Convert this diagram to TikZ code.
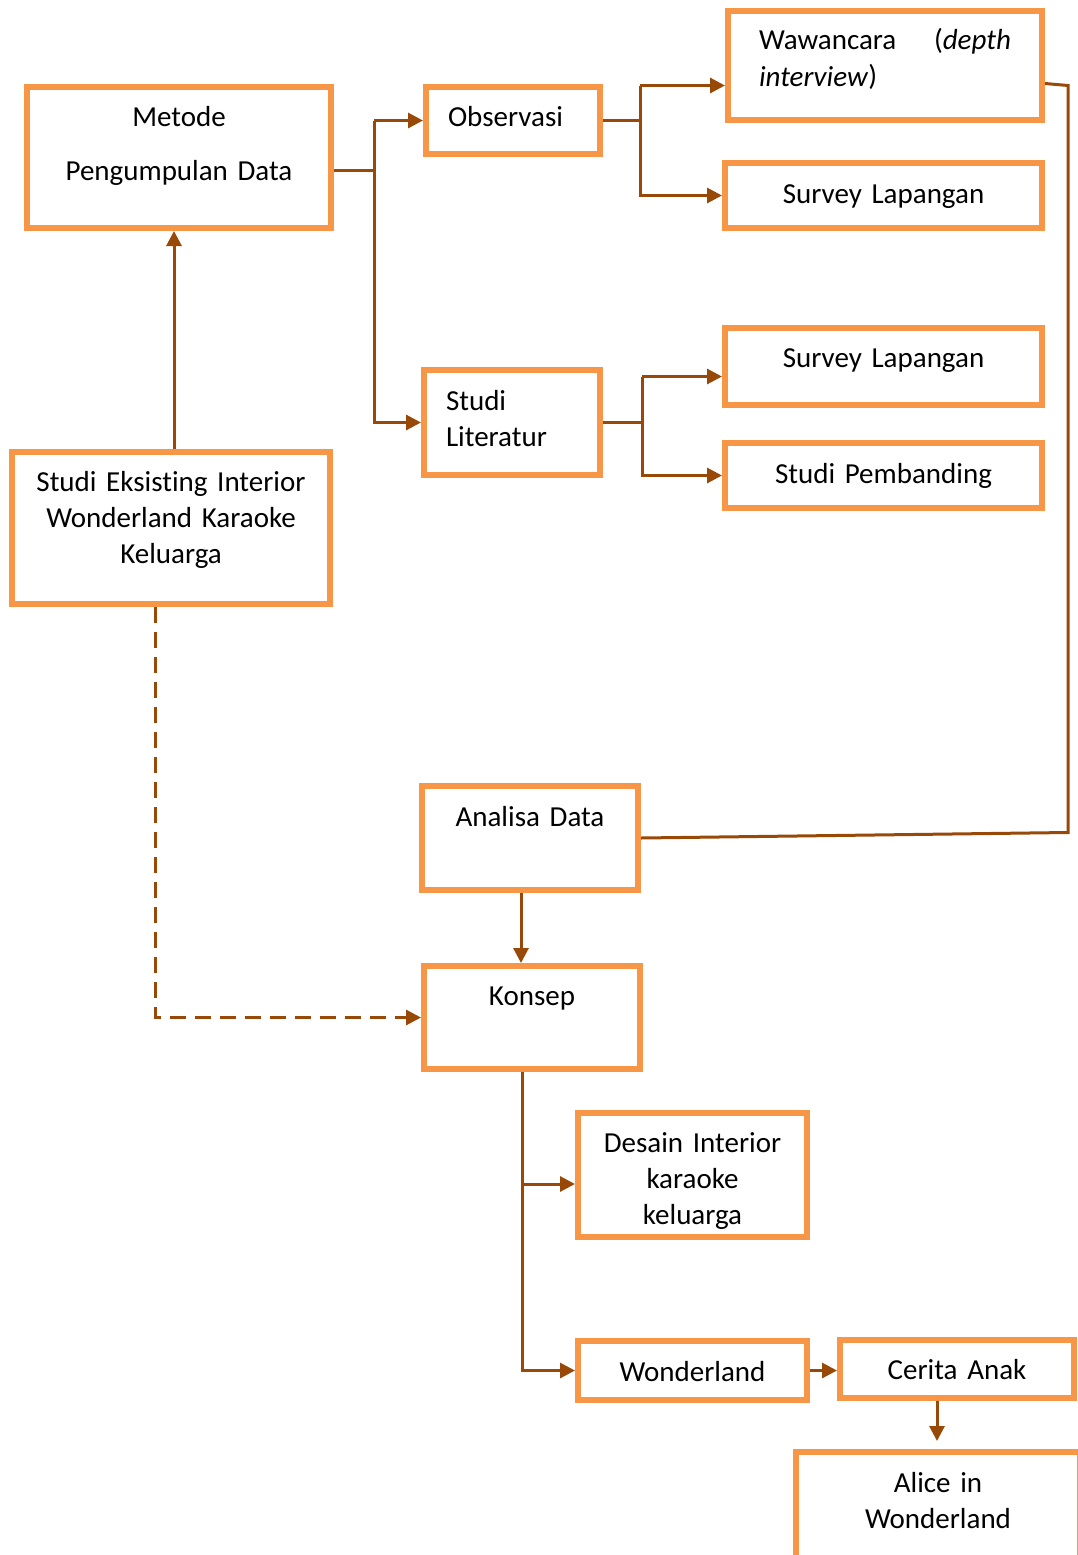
\documentclass[tikz,border=0pt]{standalone}
\usepackage{fontspec}
\setmainfont{Carlito}[Ligatures=NoCommon]
\usepackage{tikz}
\usetikzlibrary{arrows.meta}

\definecolor{boxorange}{RGB}{247,150,70}
\definecolor{linkbrown}{RGB}{152,72,7}

\begin{document}
\begin{tikzpicture}[
	x=1pt, y=-1pt,
	box/.style={draw=boxorange, line width=6pt, fill=white, inner xsep=0pt, inner ysep=0pt,
		anchor=north west, align=center, font=\fontsize{29}{36}\selectfont},
	leftbox/.style={box, align=left, inner xsep=22pt},
	link/.style={draw=linkbrown, line width=3pt},
	edge/.style={link, -{Triangle[length=15pt,width=15pt]}}
	]
	\useasboundingbox (0,0) rectangle (1078,1555);

	% Nodes
	\node[box, text width=304pt, text height=39pt, text depth=102pt] (metode) at (24,84) {Metode\\[18pt]Pengumpulan Data};
	\node[leftbox, text width=130pt, text height=39pt, text depth=28pt] (observasi) at (423,84) {Observasi};
	\node[leftbox, inner xsep=31pt, text width=252pt, text height=39pt, text depth=70pt] (wawancara) at (725,8) {Wawancara\hfill(\textit{depth}\\\textit{interview})};
	\node[box, text width=317pt, text height=40pt, text depth=25pt] (survey1) at (722,160) {Survey Lapangan};
	\node[leftbox, text width=132pt, text height=40pt, text depth=65pt] (literatur) at (421,367) {Studi\\Literatur};
	\node[box, text width=317pt, text height=39pt, text depth=38pt] (survey2) at (722,325) {Survey Lapangan};
	\node[box, text width=317pt, text height=40pt, text depth=25pt] (pembanding) at (722,440) {Studi Pembanding};
	\node[box, text width=318pt, text height=39pt, text depth=113pt] (eksisting) at (9,449) {Studi Eksisting Interior\\Wonderland Karaoke\\Keluarga};
	\node[box, text width=216pt, text height=40pt, text depth=64pt] (analisa) at (419,783) {Analisa Data};
	\node[box, text width=216pt, text height=39pt, text depth=64pt] (konsep) at (421,963) {Konsep};
	\node[box, text width=229pt, text height=39pt, text depth=85pt] (desain) at (575,1110) {Desain Interior\\karaoke\\keluarga};
	\node[box, text width=229pt, text height=40pt, text depth=19pt] (wonderland) at (575,1338) {Wonderland};
	\node[box, text width=234pt, text height=39pt, text depth=19pt] (cerita) at (837,1337) {Cerita Anak};
	\node[box, text width=284pt, text height=40pt, text depth=100pt] (alice) at (793,1449) {Alice in\\Wonderland};

	% Edges
	\draw[link] ([yshift=-13pt]metode.east) -- ++(40,0) coordinate (m1);
	\draw[edge] (m1 |- observasi.west) -- (observasi.west);
	\draw[edge] (m1 |- observasi.west) -- (m1 |- literatur.west) -- (literatur.west);

	\coordinate (w1) at ([yshift=-20pt]wawancara.west);
	\draw[link] (observasi.east) -- ++(37,0) coordinate (o1);
	\draw[edge] (o1 |- w1) -- (w1);
	\draw[edge] (o1 |- w1) -- (o1 |- survey1.west) -- (survey1.west);

	\coordinate (s2) at ([yshift=-10pt]survey2.west);
	\draw[link] (literatur.east) -- ++(39,0) coordinate (l1);
	\draw[edge] (l1 |- s2) -- (s2);
	\draw[edge] (l1 |- s2) -- (l1 |- pembanding.west) -- (pembanding.west);

	\draw[link] ([yshift=-18pt]wawancara.east) -- ++(23,2) -- ++(0,747) -- (analisa.east);

	\draw[edge] ([xshift=3pt]eksisting.north) -- ([xshift=3pt]eksisting.north |- metode.south);
	\draw[edge, dash pattern=on 16pt off 9pt] ([xshift=-16pt]eksisting.south) |- (konsep.west);

	\draw[edge] ([xshift=-9pt]analisa.south) -- ([xshift=-9pt]analisa.south |- konsep.north);

	\coordinate (k1) at ([xshift=-10pt]konsep.south);
	\coordinate (d1) at ([yshift=-9pt]desain.west);
	\draw[edge] (k1) |- (wonderland.west);
	\draw[edge] (k1 |- d1) -- (d1);

	\draw[edge] (wonderland.east) -- (wonderland.east -| cerita.west);
	\draw[edge, shorten >=8pt] ([xshift=-20pt]cerita.south) -- ([xshift=-20pt]cerita.south |- alice.north);
\end{tikzpicture}
\end{document}
